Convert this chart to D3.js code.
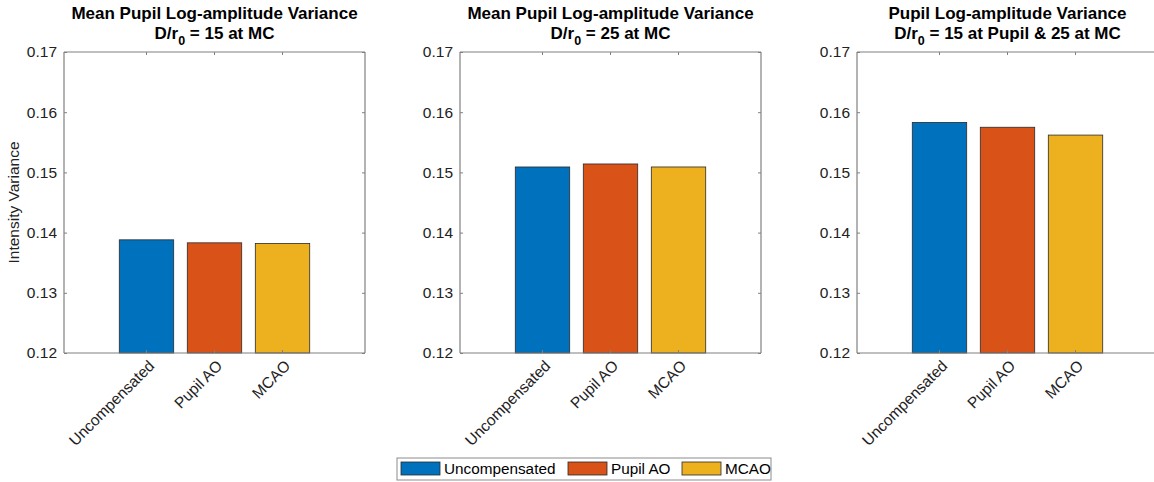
<!DOCTYPE html>
<html>
<head>
<meta charset="utf-8">
<script src="https://cdn.jsdelivr.net/npm/d3@7"></script>
<style>
  body { margin: 0; background: #fff; }
  svg { font-family: "Liberation Sans", Arial, Helvetica, sans-serif; }
</style>
</head>
<body>
<div id="chart"></div>
<script>
// Data
const categories = ["Uncompensated", "Pupil AO", "MCAO"];
const colors = ["#0072BD", "#D95319", "#EDB120"];
const titlesLine1 = [
  "Mean Pupil Log-amplitude Variance",
  "Mean Pupil Log-amplitude Variance",
  "Pupil Log-amplitude Variance"
];
const titlesLine2 = [" = 15 at MC", " = 25 at MC", " = 15 at Pupil & 25 at MC"];
const valuesMC15 = [0.1388, 0.1383, 0.1382];
const valuesMC25 = [0.1509, 0.1514, 0.1509];
const valuesMixed = [0.1583, 0.1575, 0.1562];
const yTicks = [0.12, 0.13, 0.14, 0.15, 0.16, 0.17];

const panels = [valuesMC15, valuesMC25, valuesMixed];

const width = 1154;
const height = 482;
const panelLeft = [64, 460, 857];
const plotW = 301;
const plotTop = 52;
const plotH = 301;
const axisColor = "#808080";
const textColor = "#222";

const svg = d3.select("#chart")
  .append("svg")
  .attr("width", width)
  .attr("height", height);

const y = d3.scaleLinear().domain([0.12, 0.17]).range([plotTop + plotH, plotTop]);

panels.forEach((values, p) => {
  const x0 = panelLeft[p];
  const x = d3.scaleBand()
    .domain(categories)
    .range([x0, x0 + plotW])
    .paddingInner(0.2)
    .paddingOuter(0.813);

  const g = svg.append("g");

  // bars
  g.selectAll("rect.bar")
    .data(values)
    .enter()
    .append("rect")
    .attr("class", "bar")
    .attr("x", (d, i) => x(categories[i]))
    .attr("width", x.bandwidth())
    .attr("y", (d) => y(d))
    .attr("height", (d) => y(0.12) - y(d))
    .attr("fill", (d, i) => colors[i])
    .attr("stroke", "#2a2a2a")
    .attr("stroke-width", 0.8);

  // y axis left and right, ticks pointing inward
  const left = g.append("g")
    .attr("transform", `translate(${x0},0)`)
    .call(d3.axisLeft(y).tickValues(yTicks).tickSize(-3).tickPadding(7).tickFormat(d3.format(".2f")));
  const right = g.append("g")
    .attr("transform", `translate(${x0 + plotW},0)`)
    .call(d3.axisRight(y).tickValues(yTicks).tickSize(-3).tickFormat(""));

  // x axis bottom and top
  const bottom = g.append("g")
    .attr("transform", `translate(0,${plotTop + plotH})`)
    .call(d3.axisBottom(x).tickSize(-3).tickFormat(""));
  const top = g.append("g")
    .attr("transform", `translate(0,${plotTop})`)
    .call(d3.axisTop(x).tickSize(-3).tickFormat(""));

  [left, right, bottom, top].forEach((a) => {
    a.select(".domain").attr("stroke", axisColor).attr("stroke-width", 1.2);
    a.selectAll(".tick line").attr("stroke", axisColor);
  });
  bottom.select(".domain").attr("d", `M${x0},0H${x0 + plotW}`);
  top.select(".domain").attr("d", `M${x0},0H${x0 + plotW}`);
  left.select(".domain").attr("d", `M0,${plotTop}V${plotTop + plotH}`);
  right.select(".domain").attr("d", `M0,${plotTop}V${plotTop + plotH}`);

  left.selectAll(".tick text")
    .attr("fill", textColor)
    .style("font-size", "15.5px")
    .style("font-family", "Liberation Sans, Arial, sans-serif");

  // rotated category labels
  g.selectAll("text.cat")
    .data(categories)
    .enter()
    .append("text")
    .attr("class", "cat")
    .attr("transform", (d) => `translate(${x(d) + x.bandwidth() / 2 + 5},${plotTop + plotH + 10}) rotate(-45)`)
    .attr("text-anchor", "end")
    .attr("dy", "0.35em")
    .attr("fill", textColor)
    .style("font-size", "15.5px")
    .text((d) => d);

  // titles
  const cx = x0 + plotW / 2;
  g.append("text")
    .attr("x", cx)
    .attr("y", 19)
    .attr("text-anchor", "middle")
    .attr("font-weight", "bold")
    .attr("fill", "#000")
    .style("font-size", "17px")
    .text(titlesLine1[p]);

  const t2 = g.append("text")
    .attr("x", cx)
    .attr("y", 39)
    .attr("text-anchor", "middle")
    .attr("font-weight", "bold")
    .attr("fill", "#000")
    .style("font-size", "17px");
  t2.append("tspan").text("D/r");
  t2.append("tspan").attr("dy", 6).style("font-size", "12.5px").text("0");
  t2.append("tspan").attr("dy", -6).text(titlesLine2[p]);
});

// y label on first panel
svg.append("text")
  .attr("transform", `translate(19,${plotTop + plotH / 2}) rotate(-90)`)
  .attr("text-anchor", "middle")
  .attr("fill", textColor)
  .style("font-size", "15.5px")
  .text("Intensity Variance");

// legend
const legend = svg.append("g").attr("transform", "translate(397,458)");
legend.append("rect")
  .attr("width", 374)
  .attr("height", 22)
  .attr("fill", "#fff")
  .attr("stroke", "#8c8c8c")
  .attr("stroke-width", 1);

const legendX = [4, 171, 285];
categories.forEach((c, i) => {
  const item = legend.append("g").attr("transform", `translate(${legendX[i]},4)`);
  item.append("rect")
    .attr("width", 39)
    .attr("height", 13)
    .attr("fill", colors[i])
    .attr("stroke", "#2a2a2a")
    .attr("stroke-width", 0.8);
  item.append("text")
    .attr("x", 43)
    .attr("y", 7)
    .attr("dy", "0.35em")
    .attr("fill", "#000")
    .style("font-size", "15.3px")
    .text(c);
});
</script>
</body>
</html>
